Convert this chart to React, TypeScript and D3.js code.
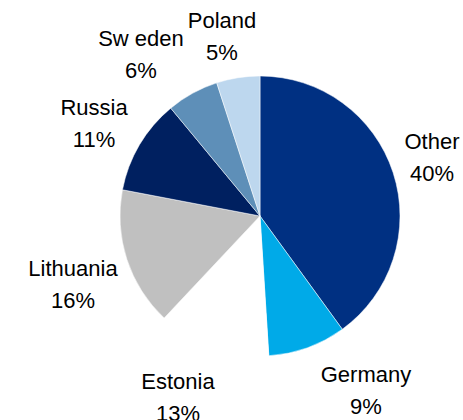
import React from "react";
import * as d3 from "d3";

const categories = ["Other", "Germany", "Estonia", "Lithuania", "Russia", "Sw eden", "Poland"];
const values = [40, 9, 13, 16, 11, 6, 5];
const colors = ["#003082", "#00AAE8", "#FFFFFF", "#C0C0C0", "#002060", "#5E8FB8", "#BDD7EE"];
const labelText = ["40%", "9%", "13%", "16%", "11%", "6%", "5%"];
// label anchor positions (center x, first baseline y)
const labelPos: [number, number][] = [
  [432, 149],
  [366, 382],
  [178, 389],
  [73, 276],
  [94, 115],
  [141, 46],
  [222, 28],
];

const W = 463;
const H = 420;
const cx = 260;
const cy = 216;
const R = 140;

export default function App() {
  const data = categories.map((c, i) => ({ c, v: values[i], i }));
  const pie = d3.pie<any>().value((d) => d.v).sort(null);
  const arcs = pie(data);
  const arc = d3.arc<any>().innerRadius(0).outerRadius(R);
  return (
    <svg width={W} height={H} style={{ position: "absolute", left: 0, top: 0 }}>
      <rect width={W} height={H} fill="#fff" />
      <g transform={`translate(${cx},${cy})`}>
        {arcs.map((a, i) => (
          <path key={i} d={arc(a) || ""} fill={colors[i]} stroke="#fff" strokeWidth={0.5} />
        ))}
      </g>
      {categories.map((c, i) => (
        <text
          key={c}
          x={labelPos[i][0]}
          y={labelPos[i][1]}
          textAnchor="middle"
          fontFamily="Liberation Sans, Arial, sans-serif"
          fontSize={22}
          fill="#000"
        >
          <tspan x={labelPos[i][0]}>{c}</tspan>
          <tspan x={labelPos[i][0]} dy={31.5}>{labelText[i]}</tspan>
        </text>
      ))}
    </svg>
  );
}
